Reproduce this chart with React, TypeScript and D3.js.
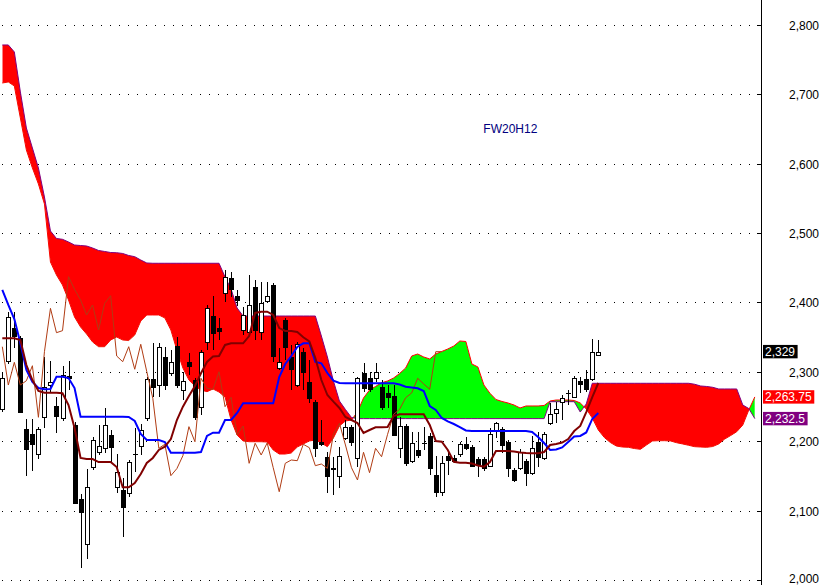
import React from "react";
import * as d3 from "d3";

// FW20H12 ichimoku chart

const W = 822;
const H = 585;

const opens = [
  2246, 2315.5, 2362.6, 2348.2, 2217.5, 2210.8, 2181.5, 2235.3, 2281.4, 2250.7,
  2232.9, 2293.5, 2223.3, 2116.7, 2051.4, 2163.2, 2184.8, 2189.7, 2208.9, 2134.4,
  2129.7, 2124.9, 2181, 2193, 2232.9, 2289.1, 2280.9, 2320.8, 2297.8, 2337.1,
  2273.7, 2313.6, 2288.1, 2249.7, 2342.4, 2380.3, 2363, 2413.9, 2434.6, 2408.7,
  2360.2, 2357.7, 2422.6, 2357.7, 2402.4, 2425, 2305.9, 2374.6, 2320.8, 2280.9,
  2328.9, 2284.8, 2256, 2198.4, 2176.8, 2161, 2150.3, 2204.1, 2220, 2175.3,
  2297.8, 2290.6, 2290.6, 2277.6, 2269, 2265.1, 2189.7, 2221.9, 2171.5, 2187.3,
  2197, 2207.5, 2151.3, 2127.2, 2178.6, 2176.2, 2181.1, 2195.5, 2191.6, 2173.9,
  2173.9, 2164.7, 2216.1, 2217.1, 2198.8, 2158.5, 2160.9, 2171.5, 2153.7, 2199.2,
  2175.3, 2225.8, 2240.2, 2256.9, 2269, 2264.1, 2286.7, 2289.1, 2289.1, 2324.2,
];

const highs = [
  2300, 2386, 2386, 2351.5, 2232, 2232, 2220.4, 2321.7, 2315.5, 2264.1,
  2308.3, 2315.5, 2227.6, 2123.5, 2159.9, 2206, 2223.3, 2247.4, 2216.1, 2181.5,
  2146.5, 2172.9, 2218.5, 2224.7, 2292.5, 2341, 2341.9, 2336.1, 2331.3, 2349.6,
  2300.1, 2327.5, 2291, 2331.3, 2396.2, 2409.1, 2377.5, 2446.6, 2444.2, 2417.8,
  2393.7, 2439.4, 2432.2, 2429.8, 2429.8, 2427.4, 2333.8, 2377.5, 2338.6, 2342.9,
  2334.2, 2317, 2259.3, 2230.5, 2184.8, 2177.6, 2192, 2230.5, 2223.3, 2292.9,
  2312.2, 2299.7, 2312.2, 2288.1, 2280.9, 2280.9, 2235.3, 2224.7, 2213.7, 2213.7,
  2220.9, 2211.8, 2178.6, 2178.6, 2184.4, 2180.1, 2198.8, 2206.4, 2194.5, 2177.2,
  2177.2, 2219.4, 2228.1, 2220.4, 2201.7, 2161.4, 2188.3, 2174.3, 2207.5, 2213.7,
  2213.7, 2254.6, 2256.9, 2266.5, 2273.7, 2293.9, 2292.9, 2302.5, 2346.8, 2345.8,
];

const lows = [
  2242, 2311.2, 2334.2, 2240.6, 2149.8, 2157.5, 2174.3, 2218.5, 2270.8, 2212.2,
  2229.1, 2273.7, 2109.5, 2016.8, 2029.8, 2158.5, 2180.1, 2182.5, 2168.1, 2125.3,
  2062.4, 2119.6, 2155.6, 2180.1, 2229, 2264.1, 2264.1, 2273.7, 2293.9, 2276.6,
  2259.3, 2295.3, 2230.5, 2237.7, 2331.3, 2331.3, 2345.8, 2401, 2408.2, 2394.8,
  2353, 2353, 2345.8, 2345.8, 2398.6, 2314.5, 2302.5, 2317, 2273.7, 2278,
  2273.7, 2254.6, 2177.6, 2193, 2124.9, 2122.5, 2132.1, 2201.7, 2193, 2163.2,
  2270.8, 2270.8, 2285.3, 2244.9, 2247.8, 2207.5, 2175.3, 2164.7, 2168.6, 2175.8,
  2187.3, 2151.3, 2119.1, 2121, 2151.3, 2168.6, 2176.8, 2187.3, 2162.8, 2148,
  2157, 2162.8, 2205, 2182.5, 2148.8, 2141.2, 2158.5, 2135.4, 2151.3, 2163.2,
  2172.9, 2223.3, 2225.8, 2230.5, 2252.1, 2262.2, 2269, 2270.8, 2286.7, 2322.7,
];

const closes = [
  2290.6, 2378.5, 2351.5, 2242, 2188.3, 2196.4, 2217.5, 2278.5, 2284.8, 2235.6,
  2294.9, 2290.3, 2110.5, 2098.4, 2133.6, 2201.7, 2192.6, 2223.3, 2192, 2156,
  2105.6, 2169.6, 2182, 2216.1, 2289.1, 2277.6, 2336.1, 2280.9, 2313.6, 2280.9,
  2287.1, 2308.7, 2234.4, 2328.9, 2391.4, 2356.3, 2359.2, 2437, 2418.8, 2403.4,
  2381.8, 2396.2, 2360.2, 2398.6, 2409.6, 2322.7, 2314.5, 2336.1, 2303.6, 2339.6,
  2300.1, 2261.8, 2189.7, 2195.5, 2150.3, 2160.5, 2179.1, 2220.9, 2199.2, 2290.6,
  2276.2, 2274.7, 2300.1, 2249.7, 2263.2, 2208.9, 2221.9, 2168.1, 2197, 2180.1,
  2197.5, 2161.8, 2127.2, 2168.1, 2172.9, 2171.9, 2195.5, 2190.6, 2164.7, 2167.1,
  2160.9, 2209.9, 2225.8, 2194.5, 2161.8, 2144.1, 2184, 2154.6, 2189.7, 2177.6,
  2209.9, 2238.7, 2245.9, 2262.6, 2269.5, 2290.6, 2282.4, 2274.7, 2328.9, 2329,
];

const tenkan = [
  2348.2, 2348.2, 2348.2, 2345.8, 2309.7, 2288.1, 2272.3, 2269.8, 2269.8, 2269.8,
  2269, 2252.1, 2219, 2175.8, 2174.3, 2174.3, 2169.9, 2169.9, 2169.9, 2162.8,
  2133.5, 2133.5, 2139.7, 2152.7, 2168.6, 2175.8, 2187.3, 2192, 2203.1, 2230.5,
  2249.7, 2265.1, 2279.5, 2297.8, 2314.1, 2322, 2322.7, 2338.6, 2341, 2341,
  2341, 2351.5, 2384.7, 2386.5, 2386.5, 2381.8, 2363, 2358.7, 2358.7, 2357.3,
  2349.6, 2343.6, 2319.8, 2288.1, 2266.5, 2256.9, 2247.8, 2234.8, 2230.5, 2226.2,
  2211.8, 2216.1, 2220, 2220, 2220.4, 2236.3, 2238.7, 2238.7, 2238.7, 2238.7,
  2238.7, 2223.3, 2200.3, 2199.2, 2187.3, 2170.4, 2169, 2169, 2167.8, 2165,
  2163.2, 2170, 2185.8, 2185.8, 2185.8, 2185.1, 2183.7, 2183, 2182.5, 2182.5,
  2184.4, 2194.5, 2196, 2198.1, 2203.1, 2214.6, 2221.9, 2242, 2263.6, 2283.8,
];

const kijun = [
  2417.8, 2396.2, 2376, 2341.4, 2302.5, 2285.3, 2276.6, 2274.7, 2275.2, 2292.9,
  2292.9, 2291, 2276.6, 2235.3, 2235.3, 2235.3, 2235.3, 2235.3, 2235.3, 2235.3,
  2235.3, 2235, 2229.1, 2210.3, 2201.7, 2201.7, 2201.7, 2198.8, 2183.4, 2183.4,
  2183.4, 2183.4, 2183.4, 2184.4, 2207.5, 2212.2, 2212.2, 2230.5, 2230.5, 2240.6,
  2254.6, 2254.6, 2254.6, 2254.6, 2254.6, 2254.6, 2292.5, 2311.2, 2322.7, 2335.7,
  2341, 2341, 2314.1, 2312.2, 2298.2, 2287.1, 2283.8, 2283.4, 2283.4, 2283.4,
  2283.4, 2283.4, 2283.4, 2283.4, 2283.4, 2283.4, 2281.7, 2278.5, 2277.3, 2276.2,
  2272.3, 2250.7, 2244.9, 2233.4, 2228.4, 2224.7, 2220.4, 2215.4, 2214.7, 2214.7,
  2214.7, 2214.7, 2214.7, 2214.7, 2214.7, 2214.7, 2214.7, 2214.7, 2213.2, 2206,
  2197.4, 2187.3, 2188, 2190.9, 2198.8, 2206.7, 2207.5, 2212.6, 2232, 2240.6,
];

// senkou spans, already shifted 26 bars forward (126 points)
const spanA = [
  2716, 2717.5, 2711.7, 2665.6, 2619.5, 2593.6, 2570.5, 2541.7, 2458.1, 2439.4,
  2425, 2403.4, 2378.9, 2364.5, 2354.4, 2342.9, 2336.1, 2336.1, 2345.8, 2350.1,
  2345.8, 2345.1, 2353, 2373.1, 2381.8, 2381.8, 2381.8, 2377.5, 2360.2, 2331.3,
  2305.4, 2288.1, 2279.5, 2273.7, 2271.3, 2275.2, 2270.8, 2263.6, 2230.5, 2208.9,
  2200.3, 2199.2, 2199.2, 2199.2, 2198.8, 2187.3, 2181.5, 2181.5, 2183, 2191.6,
  2196, 2200.3, 2201.7, 2197.4, 2192, 2204.6, 2221.9, 2229.1, 2230.5, 2242,
  2262.2, 2273.7, 2278.8, 2284.1, 2286.7, 2291, 2297.5, 2305.4, 2322.7, 2325.6,
  2321.3, 2318.4, 2325.6, 2329.2, 2332.8, 2337.1, 2344.3, 2343.6, 2311.2, 2306.9,
  2280.9, 2269, 2260, 2257.2, 2255, 2252.1, 2247.8, 2250.7, 2250.7, 2250.7,
  2251.4, 2257.9, 2259.3, 2259.3, 2259.3, 2258.6, 2255, 2246.4, 2233.4, 2216.1,
  2205.3, 2198.1, 2193, 2191.6, 2191.2, 2189.4, 2188.3, 2194.5, 2200.3, 2200.7,
  2200.7, 2200.3, 2197.8, 2196, 2194.1, 2192.1, 2191.6, 2191.2, 2192.3, 2196,
  2203.1, 2208.2, 2213.7, 2223.3, 2245, 2263.75,
];

const spanB = [
  2770.8, 2770.8, 2760.7, 2703.1, 2651.2, 2622.4, 2593.6, 2551.8, 2502.8, 2492,
  2490.8, 2487, 2482.6, 2481.9, 2481.2, 2478.3, 2474.7, 2473.3, 2471.8, 2471.5,
  2470.4, 2467.5, 2465.8, 2461, 2456.7, 2456.3, 2456.3, 2456.3, 2456.3, 2456.3,
  2456.3, 2456.3, 2456.3, 2456.3, 2456.3, 2456.3, 2456.3, 2436.5, 2419.2, 2391.9,
  2380.3, 2380.3, 2380.3, 2380.3, 2380.3, 2380.3, 2380.3, 2380.3, 2380.3, 2380.3,
  2380.3, 2380.3, 2380.3, 2351.5, 2321.3, 2286.7, 2257.9, 2245.6, 2234.1, 2232.5,
  2232.5, 2232.5, 2232.5, 2232.5, 2232.5, 2232.5, 2232.5, 2232.5, 2232.5, 2232.5,
  2232.5, 2232.5, 2232.5, 2232.5, 2232.5, 2232.5, 2232.5, 2232.5, 2232.5, 2232.5,
  2232.5, 2232.5, 2232.5, 2232.5, 2232.5, 2232.5, 2232.5, 2232.5, 2232.5, 2232.5,
  2232.5, 2256.9, 2256.9, 2256.9, 2256.9, 2256.9, 2242, 2253.6, 2283.4, 2283.4,
  2283.4, 2283.4, 2283.4, 2283.4, 2283.4, 2283.4, 2283.4, 2283.4, 2283.4, 2283.4,
  2283.4, 2283.4, 2283.4, 2283.4, 2283.4, 2282, 2279.5, 2278.8, 2277.6, 2275.2,
  2275.2, 2275.2, 2275.2, 2252.1, 2247, 2232.5,
];

const yTicks = [2000, 2100, 2200, 2300, 2400, 2500, 2600, 2700, 2800];
const title = "FW20H12";
const shift = 26;

const FONT = "'Liberation Sans', Arial, sans-serif";

const yScale = d3.scaleLinear().domain([2000, 2800]).range([580, 24.7]);
const xScale = d3.scaleLinear().domain([0, 99]).range([2.3, 598.3]);
const fmt = d3.format(",");

// rough width of an Arial 12px number label
const labelWidth = (s: string) =>
  s.split("").reduce((w, ch) => w + (ch === "," || ch === "." ? 3.33 : 6.67), 0) + 4.6;

const App: React.FC = () => {
  const between = d3
    .area<number>()
    .x((_, i) => xScale(i))
    .y0((_, i) => yScale(spanA[i]))
    .y1((_, i) => yScale(spanB[i]));
  const aboveA = d3
    .area<number>()
    .x((_, i) => xScale(i))
    .y0(0)
    .y1((_, i) => yScale(spanA[i]));
  const belowA = d3
    .area<number>()
    .x((_, i) => xScale(i))
    .y0((_, i) => yScale(spanA[i]))
    .y1(H);

  const lineOf = d3
    .line<number>()
    .x((_, i) => xScale(i))
    .y((d) => yScale(d));

  const axisX = 761.5;

  const priceTags = [
    { v: closes[closes.length - 1], bg: "#000000" },
    { v: spanA[spanA.length - 1], bg: "#ff0000" },
    { v: spanB[spanB.length - 1], bg: "#800080" },
  ];

  return (
    <svg
      width={W}
      height={H}
      style={{ position: "absolute", left: 0, top: 0, background: "#fff" }}
      fontFamily={FONT}
    >
      <defs>
        <clipPath id="clipAbove">
          <path d={aboveA(spanA) || ""} />
        </clipPath>
        <clipPath id="clipBelow">
          <path d={belowA(spanA) || ""} />
        </clipPath>
      </defs>

      {/* dotted grid */}
      {yTicks.map((t) => {
        const y = Math.round(yScale(t)) + 0.5;
        return (
          <line
            key={"g" + t}
            x1={2}
            x2={757}
            y1={y}
            y2={y}
            stroke="#000"
            strokeWidth={1}
            strokeDasharray="1 8"
            shapeRendering="crispEdges"
          />
        );
      })}

      {/* kumo */}
      <path d={between(spanA) || ""} fill="#ff0000" clipPath="url(#clipAbove)" />
      <path d={between(spanA) || ""} fill="#00ff00" clipPath="url(#clipBelow)" />
      <path d={lineOf(spanA) || ""} fill="none" stroke="#ff0000" strokeWidth={1} />
      <path d={lineOf(spanB) || ""} fill="none" stroke="#800080" strokeWidth={1} />

      {/* candles */}
      {closes.map((c, i) => {
        const o = opens[i];
        const cx = Math.round(xScale(i));
        const yTop = Math.round(yScale(Math.max(o, c)));
        const yBot = Math.round(yScale(Math.min(o, c)));
        const up = c >= o;
        return (
          <g key={"c" + i} shapeRendering="crispEdges">
            <line
              x1={cx + 0.5}
              x2={cx + 0.5}
              y1={Math.round(yScale(highs[i]))}
              y2={Math.round(yScale(lows[i]))}
              stroke="#000"
            />
            {yBot - yTop < 1 ? (
              <line x1={cx - 2} x2={cx + 3} y1={yTop + 0.5} y2={yTop + 0.5} stroke="#000" />
            ) : (
              <rect
                x={cx - 1.5}
                y={yTop + 0.5}
                width={4}
                height={yBot - yTop}
                fill={up ? "#fff" : "#000"}
                stroke="#000"
              />
            )}
          </g>
        );
      })}

      {/* chikou: closes drawn 26 bars back */}
      <path
        d={lineOf(closes.slice(shift)) || ""}
        fill="none"
        stroke="#b03c14"
        strokeWidth={1}
      />
      <path d={lineOf(kijun) || ""} fill="none" stroke="#0000ff" strokeWidth={2} />
      <path d={lineOf(tenkan) || ""} fill="none" stroke="#800000" strokeWidth={2} />

      {/* right axis */}
      <line x1={axisX} x2={axisX} y1={0} y2={H} stroke="#000" shapeRendering="crispEdges" />
      {yTicks.map((t) => {
        const y = Math.round(yScale(t)) + 0.5;
        // keep the bottom label inside the frame
        const ty = Math.min(y + 4.3, H - 2);
        return (
          <g key={"t" + t}>
            <line x1={757} x2={axisX} y1={y} y2={y} stroke="#000" shapeRendering="crispEdges" />
            <text x={789} y={ty} fontSize={12} fill="#000">
              {fmt(t)}
            </text>
          </g>
        );
      })}

      {priceTags.map((p) => {
        const y = yScale(p.v);
        const s = fmt(p.v);
        return (
          <g key={"p" + p.bg}>
            <rect x={763} y={y - 6.7} width={labelWidth(s)} height={13.4} fill={p.bg} />
            <text x={765} y={y} dy="0.36em" fontSize={12} fill="#fff">
              {s}
            </text>
          </g>
        );
      })}

      <text x={483.3} y={132.7} fontSize={12} fill="#000080">
        {title}
      </text>
    </svg>
  );
};

export default App;
